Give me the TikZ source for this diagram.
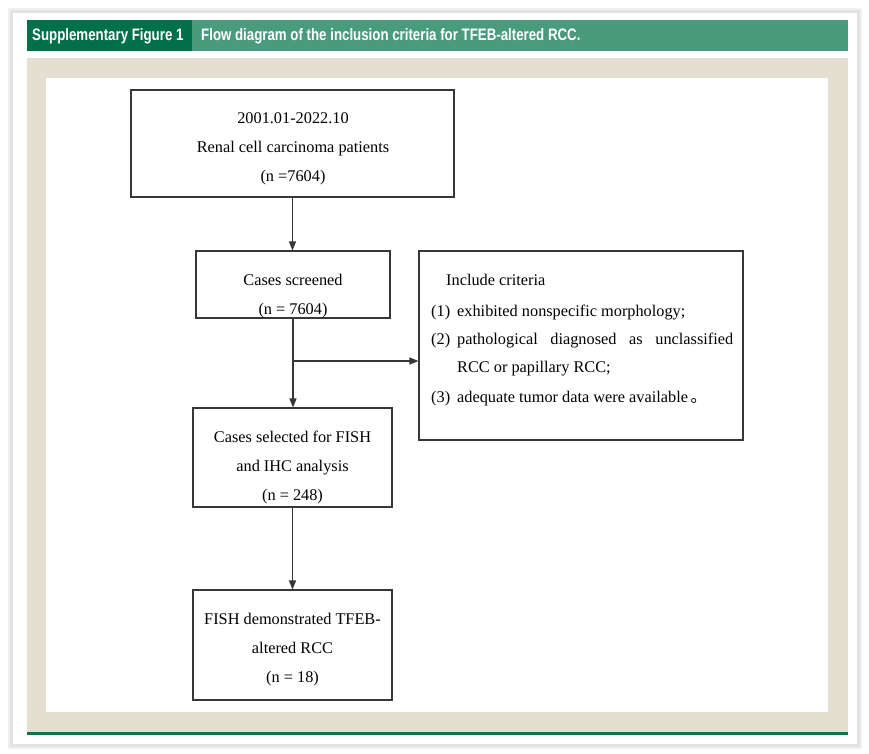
\documentclass[tikz,border=0pt]{standalone}
\usepackage{fontspec}
\setmainfont{Liberation Serif}
\newfontfamily\headfont[FakeStretch=0.8]{Liberation Sans}
\newfontfamily\cjkfont{Noto Sans CJK SC}
\usetikzlibrary{arrows.meta}
\definecolor{darkgreen}{RGB}{0,112,74}
\definecolor{lightgreen}{RGB}{74,154,126}
\definecolor{beige}{RGB}{228,223,209}
\definecolor{linegreen}{RGB}{24,110,78}
\definecolor{boxgray}{RGB}{55,55,55}
\tikzset{
  box/.style={draw=boxgray,line width=1.1pt,fill=white,inner sep=0pt},
  txt/.style={inner sep=0pt,align=center,font=\fontsize{16.3}{29}\selectfont},
  crittxt/.style={inner sep=0pt,anchor=base west,font=\fontsize{16.3}{18}\selectfont},
  arr/.style={-{Triangle[length=9pt,width=7pt]},line width=1.2pt,draw=boxgray},
  headtxt/.style={inner sep=0pt,anchor=west,text=white,font=\headfont\bfseries\fontsize{16.6}{18}\selectfont}
}
\begin{document}
\begin{tikzpicture}[x=1pt,y=-1pt]
  \useasboundingbox (0,0) rectangle (869,753);
  % card and shadow
  \fill[gray!12] (8,8) rectangle (862,749);
  \fill[gray!22] (10,10) rectangle (860,747);
  \fill[white] (13,13) rectangle (857,744);

  % header bar
  \fill[lightgreen] (27,20) rectangle (848,51);
  \fill[darkgreen] (27,20) rectangle (192,51);
  \node[headtxt] (figno) at (32,36) {Supplementary Figure 1};
  \node[headtxt] (figtitle) at (201,36) {Flow diagram of the inclusion criteria for TFEB-altered RCC.};

  % frame
  \fill[beige] (27,58) rectangle (848,732);
  \fill[white] (46,78) rectangle (828,712);
  \fill[linegreen] (27,732) rectangle (848,735);

  % boxes
  \node[box,minimum width=323pt,minimum height=107pt] (patients) at (292.5,143.5) {};
  \node[txt] (patientsText) at (293,148.5) {2001.01-2022.10\\Renal cell carcinoma patients\\(n =7604)};

  \node[box,minimum width=194pt,minimum height=67pt] (screened) at (293,284.5) {};
  \node[txt] (screenedText) at (293,296) {Cases screened\\(n = 7604)};

  \node[box,minimum width=324pt,minimum height=189pt] (criteria) at (581,345.5) {};
  \node[crittxt] (crit0) at (446,285) {Include criteria};
  \node[crittxt] (num1) at (431,316) {(1)};
  \node[crittxt] (crit1) at (457,316) {exhibited nonspecific morphology;};
  \node[crittxt] (num2) at (431,344) {(2)};
  \node[crittxt] (crit2) at (457,344) {\makebox[276pt][s]{pathological diagnosed as unclassified}};
  \node[crittxt] (crit2b) at (457,372) {RCC or papillary RCC;};
  \node[crittxt] (num3) at (431,402) {(3)};
  \node[crittxt] (crit3) at (457,402) {adequate tumor data were available\,{\cjkfont 。}};

  \node[box,minimum width=199pt,minimum height=99pt] (selected) at (292.5,457.5) {};
  \node[txt] (selectedText) at (292.5,467.5) {Cases selected for FISH\\and IHC analysis\\(n = 248)};

  \node[box,minimum width=199pt,minimum height=110pt] (altered) at (292.5,645) {};
  \node[txt] (alteredText) at (292.5,649.5) {FISH demonstrated TFEB-\\altered RCC\\(n = 18)};

  % connectors
  \coordinate (split) at (293,361);
  \draw[arr] (patients.south) -- (patients.south |- screened.north);
  \draw[arr] (screened.south) -- (screened.south |- selected.north);
  \draw[arr] (split) -- (split -| criteria.west);
  \draw[arr] (selected.south) -- (altered.north);
\end{tikzpicture}
\end{document}
